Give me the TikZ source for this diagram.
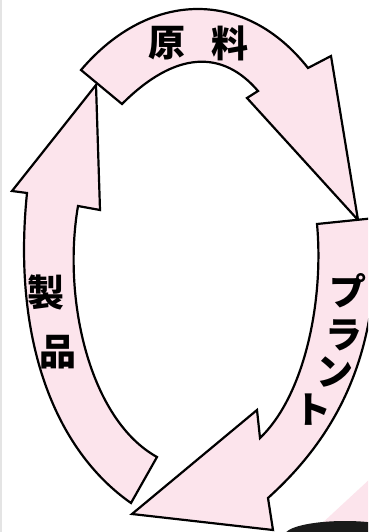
\documentclass[tikz,border=0pt]{standalone}
\usepackage{fontspec}
\newfontfamily\jp{Noto Sans CJK JP}
\definecolor{arrowpink}{HTML}{FCE4EC}
\definecolor{blobdark}{HTML}{1A1A1A}
\definecolor{stripgray}{HTML}{E4E4E4}
\tikzset{
  cyclearrow/.style={fill=arrowpink, draw=black, line width=2.2pt, line join=miter},
  label/.style={font=\jp\bfseries\fontsize{37}{37}\selectfont, inner sep=0pt, text=black},
}
\begin{document}
\begin{tikzpicture}[x=1pt,y=-1pt]
\useasboundingbox (0,0) rectangle (368,532);
\path[clip] (0,0) rectangle (368,532);
\fill[white] (0,0) rectangle (368,532);
\fill[stripgray] (0,0) rectangle (2,532);
% background partial figure bottom right
\fill[arrowpink] (318,527) -- (385,465) -- (385,540) -- (318,540) -- cycle;
\fill[blobdark] (345,535) ellipse [x radius=60, y radius=14];
\fill[blobdark] (285,535) rectangle (385,545);
% top arrow
\path[cyclearrow] (81,70) .. controls (150,-11) and (246,-11) .. (308,68)
  -- (331,56) -- (358,220) -- (247,98) -- (258,91)
  .. controls (223,50) and (176,50) .. (122,104) -- cycle;
% left arrow (upward)
\path[cyclearrow] (96,85) -- (12,191) -- (27,193)
  .. controls (12,340) and (55,450) .. (131,503)
  -- (157,457)
  .. controls (90,420) and (62,300) .. (78,206)
  -- (100,210) -- cycle;
% right arrow (downward)
\path[cyclearrow] (317,224) -- (385,217) -- (385,260) -- (372,300)
  .. controls (360,400) and (310,460) .. (268,498)
  -- (273,530) -- (132,514) -- (257,410) -- (260,438)
  .. controls (305,395) and (324,300) .. (317,224) -- cycle;
% labels
\node[label] (gen) at (167,43) {原};
\node[label] (ryo) at (230,43) {料};
\node[label] (sei) at (46,292) {製};
\node[label] (hin) at (58,352) {品};
\node[label] (pu) at (348,291) {プ};
\node[label] (ra) at (344,335) {ラ};
\node[label] (n) at (335,372) {ン};
\node[label] (to) at (313,410) {ト};
\end{tikzpicture}
\end{document}
